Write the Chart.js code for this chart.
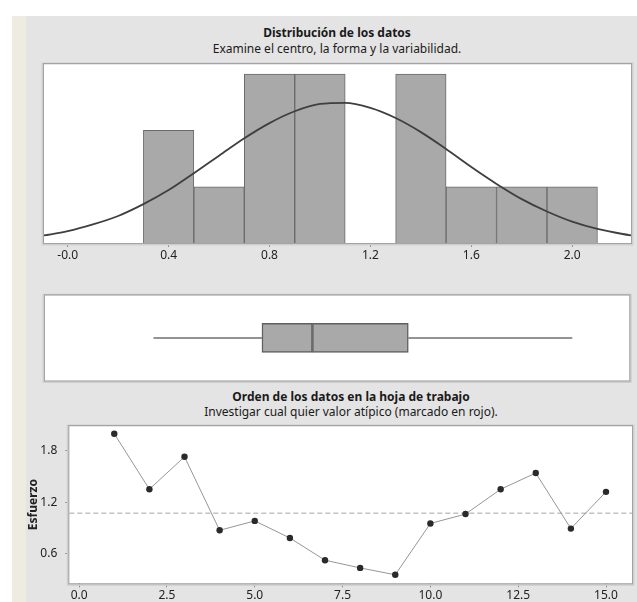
<!DOCTYPE html>
<html lang="es">
<head>
<meta charset="UTF-8">
<title>Distribución de los datos</title>
<script src="https://cdn.jsdelivr.net/npm/chart.js"></script>
<style>
    body {
        margin: 0;
        width: 637px;
        height: 602px;
        overflow: hidden;
        background: #fff;
        position: relative;
        font-family: "Noto Sans", sans-serif;
        color: #1a1a1a;
    }
    .strip { position: absolute; left: 12px; top: 16px; width: 14px; height: 586px; background: #eeebe1; }
    .panel { position: absolute; left: 26px; top: 16px; width: 611px; height: 586px; background: #e4e4e4; }
    .txt {
        position: absolute;
        transform: translate(-50%, -50%);
        white-space: nowrap;
        font-size: 12px;
    }
    .bold { font-weight: bold; }
    canvas { position: absolute; left: 26px; }
</style>
</head>
<body>
<div class="strip"></div>
<div class="panel"></div>

<div class="txt bold" style="left:337px; top:32px;">Distribución de los datos</div>
<div class="txt" style="left:337px; top:48px;">Examine el centro, la forma y la variabilidad.</div>
<div class="txt bold" style="left:351px; top:396px;">Orden de los datos en la hoja de trabajo</div>
<div class="txt" style="left:351px; top:411px;">Investigar cual quier valor atípico (marcado en rojo).</div>

<canvas id="histChart" width="611" height="212" style="top:60px;"></canvas>
<canvas id="boxChart" width="611" height="105" style="top:285px;"></canvas>
<canvas id="orderChart" width="611" height="182" style="top:420px;"></canvas>

<script>
    // histogram bins (width 0.2) and counts
    const binCenters = [0.4, 0.6, 0.8, 1.0, 1.2, 1.4, 1.6, 1.8, 2.0];
    const binCounts = [2, 1, 3, 3, 0, 3, 1, 1, 1];

    // fitted normal curve (in counts)
    const curveX = [-0.1, 0.0, 0.1, 0.2, 0.3, 0.4, 0.5, 0.6, 0.7, 0.8, 0.9, 1.0,
                    1.1, 1.2, 1.3, 1.4, 1.5, 1.6, 1.7, 1.8, 1.9, 2.0, 2.1, 2.2, 2.3];
    const curveY = [0.13, 0.21, 0.33, 0.48, 0.69, 0.94, 1.24, 1.55, 1.86, 2.13, 2.34, 2.47,
                    2.49, 2.40, 2.22, 1.97, 1.67, 1.35, 1.05, 0.78, 0.56, 0.38, 0.25, 0.16, 0.09];

    const histTickValues = [0, 0.4, 0.8, 1.2, 1.6, 2.0];
    const histTickLabels = ['-0.0', '0.4', '0.8', '1.2', '1.6', '2.0'];

    // boxplot: min whisker, Q1, median, Q3, max whisker
    const boxStats = [0.34, 0.77, 0.97, 1.35, 2.00];

    // data in worksheet order
    const rowIndex = [1, 2, 3, 4, 5, 6, 7, 8, 9, 10, 11, 12, 13, 14, 15];
    const esfuerzo = [2.00, 1.35, 1.73, 0.87, 0.98, 0.78, 0.52, 0.43, 0.35, 0.95, 1.06, 1.35, 1.54, 0.89, 1.32];
    const meanEsfuerzo = 1.07;
    const orderXTicks = [0, 2.5, 5, 7.5, 10, 12.5, 15];
    const orderYTicks = [0.6, 1.2, 1.8];

    const tickFont = { family: '"Noto Sans", sans-serif', size: 12 };
    const tickColor = '#222';

    // drop the label overflow padding so the plot box lands where it should
    function noPad(s) {
        s.paddingTop = 0; s.paddingBottom = 0;
        s.paddingLeft = 0; s.paddingRight = 0;
    }

    // white plot area + grey frame like Minitab
    const framePlugin = {
        id: 'frame',
        beforeDraw(chart) {
            const { ctx, chartArea: a } = chart;
            ctx.save();
            ctx.fillStyle = '#fff';
            ctx.fillRect(a.left, a.top, a.right - a.left, a.bottom - a.top);
            ctx.restore();
        },
        afterDatasetsDraw(chart) {
            const { ctx, chartArea: a } = chart;
            ctx.save();
            ctx.strokeStyle = '#cfcfcf';
            ctx.lineWidth = 2;
            ctx.strokeRect(a.left - 1.5, a.top - 0.5, a.right - a.left + 3, a.bottom - a.top + 2);
            ctx.strokeStyle = '#a3a3a3';
            ctx.lineWidth = 1;
            ctx.strokeRect(a.left - 0.5, a.top - 0.5, a.right - a.left + 1, a.bottom - a.top + 1);
            ctx.restore();
        }
    };

    const meanLinePlugin = {
        id: 'meanLine',
        beforeDatasetsDraw(chart) {
            const { ctx, chartArea: a, scales } = chart;
            const y = scales.y.getPixelForValue(meanEsfuerzo);
            ctx.save();
            ctx.strokeStyle = '#c2c2c2';
            ctx.lineWidth = 1.5;
            ctx.setLineDash([5, 3]);
            ctx.beginPath();
            ctx.moveTo(a.left, y);
            ctx.lineTo(a.right, y);
            ctx.stroke();
            ctx.restore();
        }
    };

    const baseOptions = {
        responsive: false,
        animation: false,
        events: [],
        plugins: { legend: { display: false }, tooltip: { enabled: false } }
    };

    // Histogram
    new Chart(document.getElementById('histChart'), {
        type: 'bar',
        data: {
            datasets: [
                {
                    type: 'line',
                    order: 0,
                    data: curveX.map((x, i) => ({ x: x, y: curveY[i] })),
                    borderColor: '#3f3f3f',
                    borderWidth: 1.8,
                    pointRadius: 0,
                    cubicInterpolationMode: 'monotone'
                },
                {
                    type: 'bar',
                    order: 1,
                    data: binCenters.map((x, i) => ({ x: x, y: binCounts[i] })),
                    backgroundColor: '#a9a9a9',
                    borderColor: '#6a6a6a',
                    borderWidth: 1,
                    barPercentage: 1,
                    categoryPercentage: 1
                }
            ]
        },
        options: {
            ...baseOptions,
            layout: { padding: { left: 18, top: 4, right: 6, bottom: 4 } },
            scales: {
                x: {
                    type: 'linear',
                    min: -0.094,
                    max: 2.233,
                    offset: false,
                    afterBuildTicks: s => { s.ticks = histTickValues.map(v => ({ value: v })); },
                    afterFit: s => { s.height = 25; noPad(s); },
                    ticks: {
                        callback: (v, i) => histTickLabels[i],
                        font: tickFont, color: tickColor, padding: 1,
                        maxRotation: 0, autoSkip: false
                    },
                    grid: { drawOnChartArea: false, tickLength: 4, color: '#8a8a8a', offset: false },
                    border: { display: false }
                },
                y: { display: false, min: 0, max: 3.18 }
            }
        },
        plugins: [framePlugin]
    });

    // Boxplot
    new Chart(document.getElementById('boxChart'), {
        type: 'bar',
        data: {
            datasets: [
                {
                    type: 'line',
                    data: [{ x: boxStats[0], y: 0.5 }, { x: boxStats[1], y: 0.5 }],
                    borderColor: '#6f6f6f', borderWidth: 1.5, pointRadius: 0
                },
                {
                    type: 'line',
                    data: [{ x: boxStats[3], y: 0.5 }, { x: boxStats[4], y: 0.5 }],
                    borderColor: '#6f6f6f', borderWidth: 1.5, pointRadius: 0
                },
                {
                    data: [{ y: 0.5, x: [boxStats[1], boxStats[2]] }],
                    backgroundColor: '#a9a9a9', borderColor: '#5f5f5f', borderWidth: 1.5,
                    borderSkipped: false, barThickness: 29, grouped: false
                },
                {
                    data: [{ y: 0.5, x: [boxStats[2], boxStats[3]] }],
                    backgroundColor: '#a9a9a9', borderColor: '#5f5f5f', borderWidth: 1.5,
                    borderSkipped: false, barThickness: 29, grouped: false
                }
            ]
        },
        options: {
            ...baseOptions,
            indexAxis: 'y',
            layout: { padding: { left: 19, top: 10.3, right: 7.7, bottom: 9.5 } },
            scales: {
                x: { type: 'linear', display: false, min: -0.090, max: 2.226, offset: false },
                y: { type: 'linear', display: false, min: 0, max: 1, offset: false }
            }
        },
        plugins: [framePlugin]
    });

    // Order plot
    new Chart(document.getElementById('orderChart'), {
        type: 'line',
        data: {
            datasets: [{
                data: rowIndex.map((x, i) => ({ x: x, y: esfuerzo[i] })),
                borderColor: '#8a8a8a',
                borderWidth: 0.9,
                pointRadius: 3.2,
                pointBackgroundColor: '#2a2a2a',
                pointBorderColor: '#2a2a2a',
                pointBorderWidth: 0,
                tension: 0
            }]
        },
        options: {
            ...baseOptions,
            layout: { padding: { left: 0, top: 6, right: 5, bottom: 0 } },
            scales: {
                x: {
                    type: 'linear',
                    min: -0.28,
                    max: 15.74,
                    afterBuildTicks: s => { s.ticks = orderXTicks.map(v => ({ value: v })); },
                    afterFit: s => { s.height = 18.7; noPad(s); },
                    ticks: {
                        callback: v => v.toFixed(1),
                        font: tickFont, color: tickColor, padding: 1,
                        maxRotation: 0, autoSkip: false
                    },
                    grid: { drawOnChartArea: false, tickLength: 4, color: '#8a8a8a' },
                    border: { display: false }
                },
                y: {
                    type: 'linear',
                    min: 0.25,
                    max: 2.09,
                    afterBuildTicks: s => { s.ticks = orderYTicks.map(v => ({ value: v })); },
                    afterFit: s => { s.width = 43.3; noPad(s); },
                    title: {
                        display: true, text: 'Esfuerzo', color: tickColor, padding: 0,
                        font: { family: '"Noto Sans", sans-serif', size: 12, weight: 'bold' }
                    },
                    ticks: {
                        callback: v => v.toFixed(1),
                        font: tickFont, color: tickColor, padding: 8
                    },
                    grid: { drawOnChartArea: false, tickLength: 4, color: '#8a8a8a' },
                    border: { display: false }
                }
            }
        },
        plugins: [framePlugin, meanLinePlugin]
    });
</script>
</body>
</html>
